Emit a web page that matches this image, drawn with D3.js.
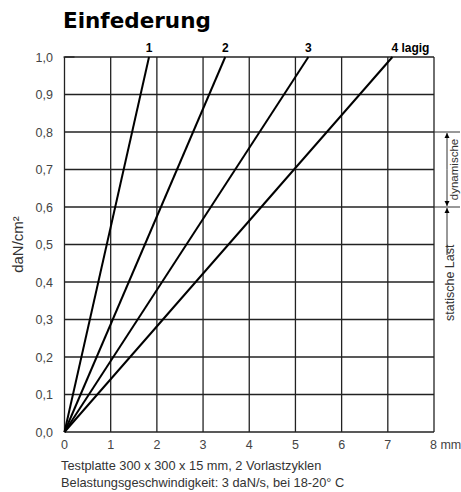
<!DOCTYPE html>
<html>
<head>
<meta charset="utf-8">
<script src="https://cdn.jsdelivr.net/npm/d3@7"></script>
<style>
body { margin: 0; background: white; overflow: hidden; }
svg { font-family: "Liberation Sans", Arial, sans-serif; }
</style>
</head>
<body>
<svg id="chart" width="461" height="492"></svg>
<script>
// series: Einfederung (mm) bei 1,0 daN/cm², straight lines from origin
const layers = ["1", "2", "3", "4 lagig"];
const deflectionAtMax = [1.83, 3.48, 5.28, 7.1];
const xTicks = [0, 1, 2, 3, 4, 5, 6, 7, 8];
const yTicks = [0, 0.1, 0.2, 0.3, 0.4, 0.5, 0.6, 0.7, 0.8, 0.9, 1.0];
const footer = ["Testplatte 300 x 300 x 15 mm, 2 Vorlastzyklen",
                "Belastungsgeschwindigkeit: 3 daN/s, bei 18-20° C"];

const svg = d3.select("#chart");
const x = d3.scaleLinear().domain([0, 8]).range([64.5, 434]);
const y = d3.scaleLinear().domain([0, 1]).range([432, 57]);
const fmt = d => d.toFixed(1).replace(".", ",");

svg.append("text").attr("x", 63).attr("y", 28)
    .attr("font-family", "'DejaVu Sans', sans-serif")
    .attr("font-weight", "bold").attr("font-size", 21.5).text("Einfederung");

// grid
const grid = svg.append("g").attr("stroke", "#222").attr("stroke-width", 1.3);
grid.selectAll("line.v").data(xTicks).join("line")
    .attr("x1", d => x(d)).attr("x2", d => x(d))
    .attr("y1", y(0)).attr("y2", y(1));
grid.selectAll("line.h").data(yTicks).join("line")
    .attr("x1", x(0)).attr("x2", x(8))
    .attr("y1", d => y(d)).attr("y2", d => y(d));
svg.append("line").attr("x1", x(0) - 1).attr("x2", x(0) + 10)
    .attr("y1", y(1)).attr("y2", y(1)).attr("stroke", "#222").attr("stroke-width", 1.3);

// axis labels
svg.append("g").selectAll("text").data(yTicks).join("text")
    .attr("x", 53).attr("y", d => y(d) + 4.5)
    .attr("text-anchor", "end").attr("font-size", 12.5).attr("fill", "#444")
    .text(fmt);
svg.append("g").selectAll("text").data(xTicks.slice(0, 8)).join("text")
    .attr("x", d => x(d)).attr("y", 449)
    .attr("text-anchor", "middle").attr("font-size", 12.5).attr("fill", "#444")
    .text(d => d);
svg.append("text").attr("x", x(8) - 4).attr("y", 449)
    .attr("font-size", 12.5).attr("fill", "#444").text("8 mm");

svg.append("text")
    .attr("transform", `translate(23,${y(0.5)}) rotate(-90)`)
    .attr("text-anchor", "middle").attr("font-size", 15).attr("fill", "#333")
    .text("daN/cm²");

// series lines
svg.append("g").selectAll("line").data(deflectionAtMax).join("line")
    .attr("x1", x(0)).attr("y1", y(0))
    .attr("x2", d => x(d)).attr("y2", y(1))
    .attr("stroke", "#000").attr("stroke-width", 2);
svg.append("g").selectAll("text").data(layers).join("text")
    .attr("x", (d, i) => x(deflectionAtMax[i]) + (i == 3 ? 18 : 0))
    .attr("y", 52).attr("text-anchor", "middle")
    .attr("font-size", 12).attr("font-weight", "bold")
    .text(d => d);

// right annotation
const ann = svg.append("g").attr("stroke", "#333").attr("stroke-width", 1);
[0.8, 0.6].forEach(v => ann.append("line")
    .attr("x1", x(8)).attr("x2", 460).attr("y1", y(v)).attr("y2", y(v)));
svg.append("defs").append("marker").attr("id", "arr")
    .attr("viewBox", "0 0 10 10").attr("refX", 10).attr("refY", 5)
    .attr("markerWidth", 5).attr("markerHeight", 7).attr("orient", "auto")
    .append("path").attr("d", "M0,0L10,5L0,10z").attr("fill", "#000");
ann.append("line").attr("x1", 447).attr("x2", 447)
    .attr("y1", y(0.7)).attr("y2", y(0.8) + 1).attr("marker-end", "url(#arr)");
ann.append("line").attr("x1", 447).attr("x2", 447)
    .attr("y1", y(0.7)).attr("y2", y(0.6) - 1).attr("marker-end", "url(#arr)");
ann.append("line").attr("x1", 447).attr("x2", 447)
    .attr("y1", 255).attr("y2", y(0.6) + 1).attr("marker-end", "url(#arr)");

svg.append("text")
    .attr("transform", `translate(457.5,${y(0.7)}) rotate(-90)`)
    .attr("text-anchor", "middle").attr("font-size", 11.5).attr("fill", "#333")
    .text("dynamische");
svg.append("text")
    .attr("transform", `translate(453.5,321) rotate(-90)`)
    .attr("font-size", 12.5).attr("fill", "#333")
    .text("statische Last");

svg.append("g").selectAll("text").data(footer).join("text")
    .attr("x", 61).attr("y", (d, i) => 470 + i * 17)
    .attr("font-size", 12.8).attr("fill", "#333").text(d => d);
</script>
</body>
</html>
